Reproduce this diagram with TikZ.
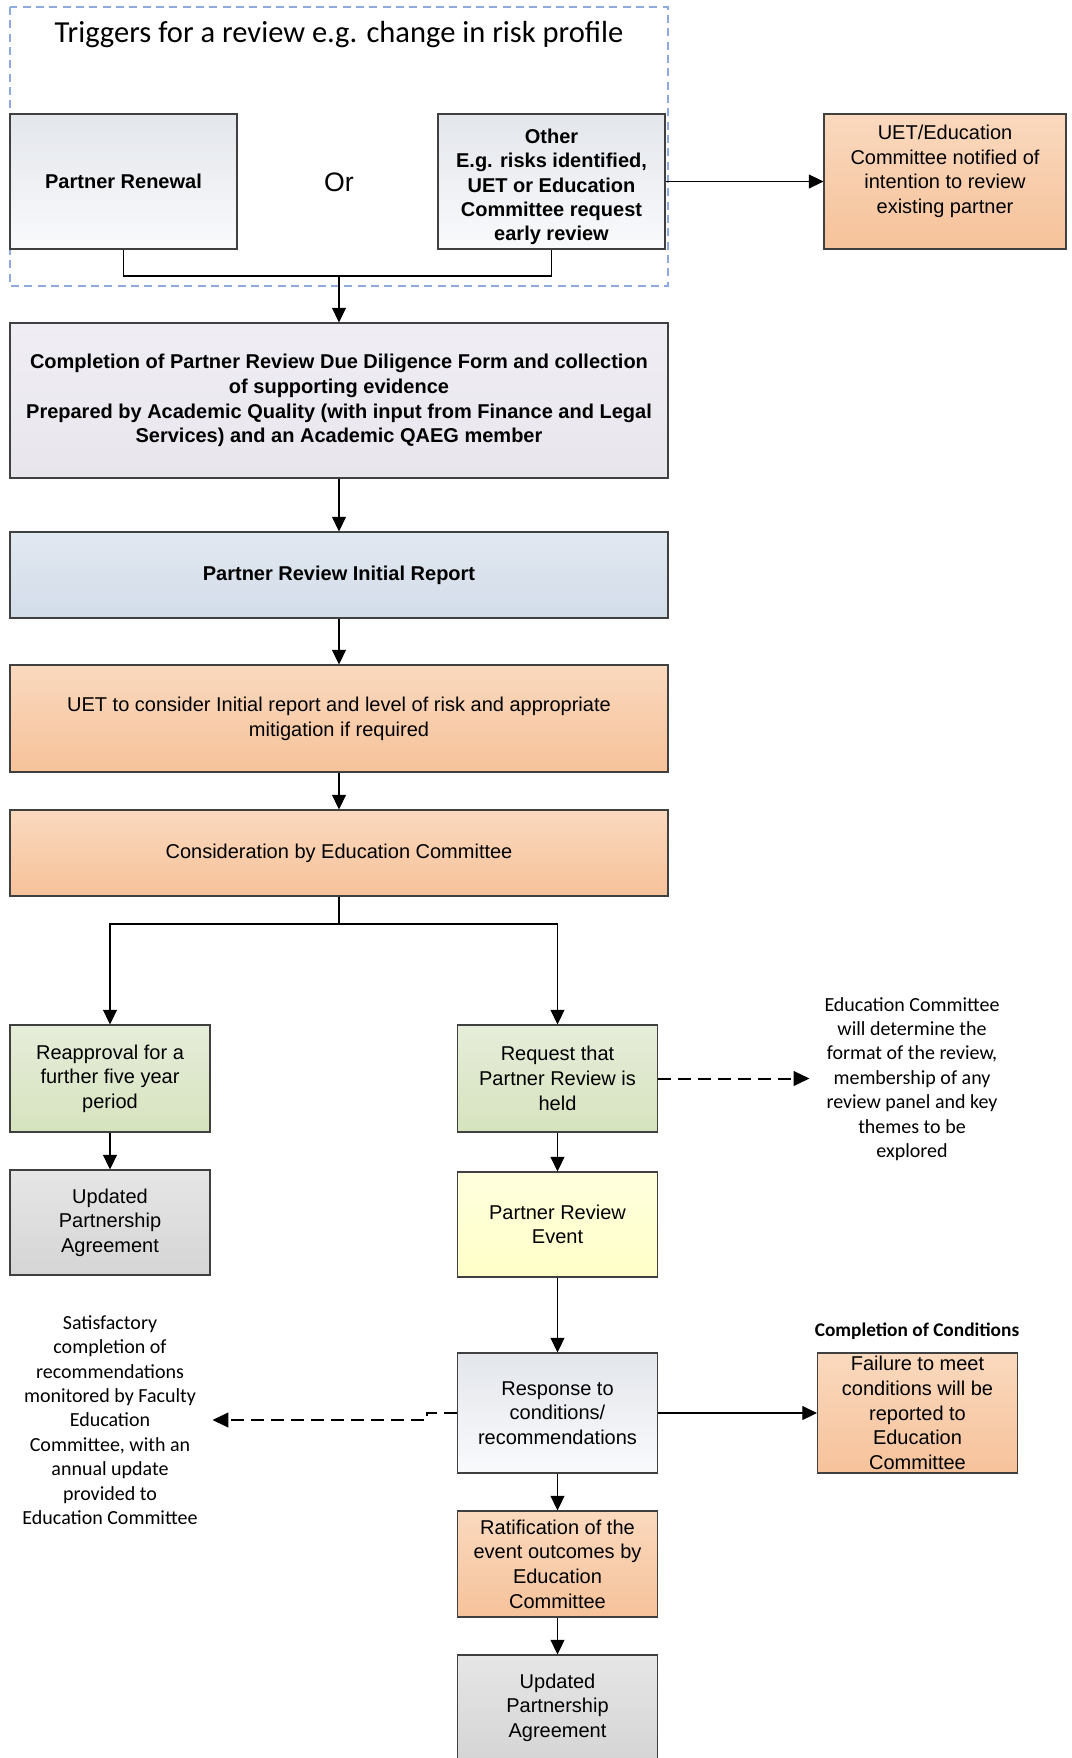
\documentclass[tikz,border=0pt]{standalone}
\usepackage{fontspec}
\setmainfont{Liberation Sans}
\newfontfamily\calibri{Carlito}
\usetikzlibrary{arrows.meta}

\definecolor{peachtop}{HTML}{FAD9BE}
\definecolor{peachbot}{HTML}{F6C29A}
\definecolor{paletop}{HTML}{E3E6EB}
\definecolor{palebot}{HTML}{F9FAFC}
\definecolor{lilactop}{HTML}{F0EEF4}
\definecolor{lilacbot}{HTML}{E8E5ED}
\definecolor{bluetop}{HTML}{E2E8F0}
\definecolor{bluebot}{HTML}{D2DCE9}
\definecolor{greentop}{HTML}{E6EDDA}
\definecolor{greenbot}{HTML}{D6E3BE}
\definecolor{greytop}{HTML}{E6E6E6}
\definecolor{greybot}{HTML}{D5D5D5}
\definecolor{yellowtop}{HTML}{FFFFDE}
\definecolor{yellowbot}{HTML}{FFFFC8}
\definecolor{framecol}{HTML}{8FAADC}

\tikzset{
  flowbox/.style={draw=black!75, line width=0.8pt, align=center, inner sep=2pt,
    font=\fontsize{15}{18.5}\selectfont},
  peach/.style={top color=peachtop, bottom color=peachbot},
  pale/.style={top color=paletop, bottom color=palebot},
  lilac/.style={top color=lilactop, bottom color=lilacbot},
  bluish/.style={top color=bluetop, bottom color=bluebot},
  greenish/.style={top color=greentop, bottom color=greenbot},
  greyish/.style={top color=greytop, bottom color=greybot},
  yellowish/.style={top color=yellowtop, bottom color=yellowbot},
  wide/.style={minimum width=493.5pt},
  small/.style={minimum width=150pt},
  flowarrow/.style={-{Triangle[length=11pt,width=10.5pt]}, line width=0.8pt},
  dasharrow/.style={-{Triangle[length=12pt,width=11pt]}, line width=1.5pt, dash pattern=on 10pt off 5pt},
  notetext/.style={align=center, inner sep=0pt, font=\calibri\fontsize{15}{18.3}\selectfont},
}

\begin{document}
\begin{tikzpicture}[x=0.75pt,y=-0.75pt]
			%%%%% START %%%%%
			
			\clip (0,0) rectangle (1071,1758);
			\fill[white] (0,0) rectangle (1071,1758);
			
			% triggers
			\draw[framecol, line width=1pt, dash pattern=on 6pt off 4pt] (10,7) rectangle (668,286);
			\node[font=\calibri\fontsize{22.9}{27}\selectfont] (title) at (339,35) {Triggers for a review e.g. change in risk profile};
			\node[flowbox, pale, minimum width=170.25pt, minimum height=101.25pt, font=\bfseries\fontsize{15}{18.5}\selectfont] (renewal) at (123.5,181.5) {Partner Renewal};
			\node[font=\fontsize{20}{24}\selectfont] (ortext) at (339,182) {Or};
			\node[flowbox, pale, minimum width=170.25pt, minimum height=101.25pt, font=\bfseries\fontsize{15}{18.3}\selectfont] (other) at (551.5,181.5) {\rule{0pt}{19pt}Other\\E.g. risks identified,\\UET or Education\\Committee request\\early review};
			\node[flowbox, peach, minimum width=181.5pt, minimum height=101.25pt] (notify) at (945,181.5) {UET/Education\\Committee notified of\\intention to review\\existing partner\\ ~};
			\coordinate (join) at (339,276);
			
			% main column
			\node[flowbox, lilac, wide, minimum height=116.25pt, font=\bfseries\fontsize{15}{18.5}\selectfont] (diligence) at (339,400.5) {Completion of Partner Review Due Diligence Form and collection\\of supporting evidence\\Prepared by Academic Quality (with input from Finance and Legal\\Services) and an Academic QAEG member};
			\node[flowbox, bluish, wide, minimum height=64.5pt, font=\bfseries\fontsize{15}{18.5}\selectfont] (initial) at (339,575) {Partner Review Initial Report};
			\node[flowbox, peach, wide, minimum height=80.25pt] (consider) at (339,718.5) {UET to consider Initial report and level of risk and appropriate\\mitigation if required};
			\node[flowbox, peach, wide, minimum height=64.5pt] (edcommittee) at (339,853) {Consideration by Education Committee};
			\coordinate (split) at (339,924);
			
			% left branch
			\node[flowbox, greenish, small, minimum height=80.25pt] (reapproval) at (110,1078.5) {Reapproval for a\\further five year\\period};
			\node[flowbox, greyish, small, minimum height=78.75pt] (updatedA) at (110,1222.5) {Updated\\Partnership\\Agreement};
			
			% right branch
			\node[flowbox, greenish, small, minimum height=80.25pt] (request) at (557.5,1078.5) {Request that\\Partner Review is\\held};
			\node[notetext] (panelnote) at (912,1079) {Education Committee\\will determine the\\format of the review,\\membership of any\\review panel and key\\themes to be\\explored};
			\node[flowbox, yellowish, small, minimum height=78.75pt] (event) at (557.5,1224.5) {Partner Review\\Event};
			\node[flowbox, pale, small, minimum height=90pt] (response) at (557.5,1413) {Response to\\conditions/\\recommendations};
			\node[font=\calibri\bfseries\fontsize{14.5}{17}\selectfont] (condlabel) at (917,1331) {Completion of Conditions};
			\node[flowbox, peach, small, minimum height=90pt] (failure) at (917.5,1413) {Failure to meet\\conditions will be\\reported to\\Education\\Committee};
			\node[notetext] (monitornote) at (110,1420) {Satisfactory\\completion of\\recommendations\\monitored by Faculty\\Education\\Committee, with an\\annual update\\provided to\\Education Committee};
			\node[flowbox, peach, small, minimum height=79.5pt] (ratify) at (557.5,1564) {Ratification of the\\event outcomes by\\Education\\Committee};
			\node[flowbox, greyish, small, minimum height=78.75pt] (updatedB) at (557.5,1707.5) {Updated\\Partnership\\Agreement};
			
			% connectors
			\draw[line width=0.8pt] (renewal.south) |- (join) -| (other.south);
			\draw[flowarrow] (join) -- (diligence.north);
			\draw[flowarrow] (other.east) -- (notify.west);
			\draw[flowarrow] (diligence) -- (initial);
			\draw[flowarrow] (initial) -- (consider);
			\draw[flowarrow] (consider) -- (edcommittee);
			\draw[line width=0.8pt] (edcommittee.south) -- (split);
			\draw[flowarrow] (split) -| (reapproval.north);
			\draw[flowarrow] (split) -| (request.north);
			\draw[flowarrow] (reapproval) -- (updatedA);
			\draw[flowarrow] (request) -- (event);
			\draw[dasharrow, shorten >=11pt] (request.east) -- (request.east -| panelnote.west);
			\draw[flowarrow] (event) -- (response);
			\draw[flowarrow] (response) -- (failure);
			\draw[dasharrow, shorten >=11pt] (response.west) -- ++(-30,0) |- (monitornote.east);
			\draw[flowarrow] (response) -- (ratify);
			\draw[flowarrow] (ratify) -- (updatedB);
			
			%%%%% END %%%%%
\end{tikzpicture}
\end{document}
